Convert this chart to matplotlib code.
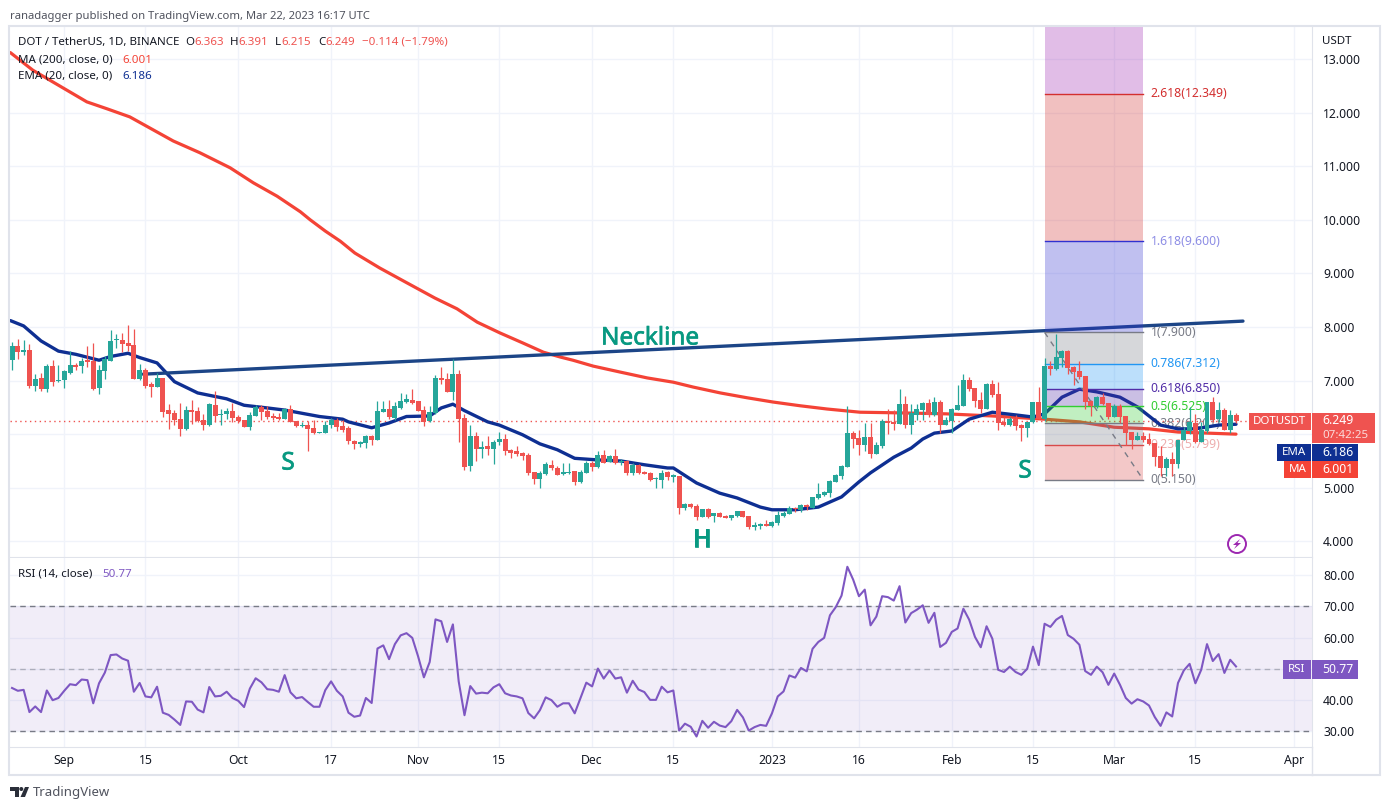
import numpy as np
import pandas as pd
import matplotlib
matplotlib.use("Agg")
import matplotlib.pyplot as plt
import matplotlib.patheffects as pe
from matplotlib.patches import Rectangle, Circle, Polygon

plt.rcParams["font.family"] = ["Noto Sans", "DejaVu Sans"]

W, H = 1390, 810

# daily candles, first bar is 2022-08-23
first_day = "2022-08-23"
opens = [7.38,7.65,7.54,7.57,6.90,7.05,6.85,7.27,6.99,7.01,
         7.15,7.29,7.27,7.38,7.37,6.86,7.18,7.37,7.75,7.76,
         7.70,7.66,7.03,7.20,6.94,6.88,7.05,6.45,6.40,6.28,
         6.10,6.45,6.43,6.26,6.17,6.54,6.35,6.38,6.43,6.32,
         6.26,6.13,6.34,6.50,6.43,6.34,6.32,6.28,6.47,6.25,
         6.15,6.17,6.12,6.02,6.02,6.17,6.26,6.15,6.11,5.87,
         5.82,5.84,5.97,5.89,6.41,6.47,6.30,6.49,6.60,6.64,
         6.62,6.45,6.24,6.40,7.05,7.03,6.79,7.12,6.30,5.41,
         5.97,5.72,5.78,5.72,5.85,5.91,5.70,5.69,5.65,5.61,
         5.29,5.16,5.26,5.42,5.37,5.26,5.27,5.31,5.11,5.27,
         5.46,5.39,5.61,5.48,5.59,5.48,5.50,5.27,5.42,5.29,
         5.27,5.16,5.14,5.29,5.21,5.22,4.62,4.70,4.66,4.45,
         4.60,4.47,4.53,4.47,4.44,4.47,4.57,4.47,4.27,4.29,
         4.32,4.29,4.34,4.47,4.51,4.62,4.58,4.68,4.62,4.81,
         4.86,4.90,5.11,5.22,5.39,6.02,5.93,5.80,5.95,5.63,
         5.78,6.25,6.23,6.19,6.56,6.17,6.36,6.45,6.58,6.36,
         6.60,6.17,6.25,6.45,6.53,7.01,6.86,6.64,6.47,6.94,
         6.75,6.23,6.17,6.28,6.17,6.12,6.23,6.60,6.28,7.27,
         7.22,7.42,7.55,7.25,7.18,7.09,6.62,6.53,6.69,6.58,
         6.32,6.53,6.34,6.04,5.89,5.97,5.91,5.83,5.59,5.37,
         5.54,5.44,5.89,6.06,6.20,5.86,6.06,6.61,6.28,6.45,6.08,6.363]
highs = [7.72,7.78,7.76,7.68,7.12,7.14,7.31,7.38,7.29,7.20,
         7.56,7.32,7.42,7.65,7.70,7.29,7.46,7.94,7.87,7.89,
         8.04,7.96,7.31,7.24,6.97,7.14,7.05,6.56,6.45,6.58,
         6.53,6.64,6.51,6.38,6.58,6.81,6.47,6.49,6.58,6.36,
         6.26,6.41,6.54,6.54,6.53,6.40,6.40,6.49,6.54,6.25,
         6.23,6.25,6.26,6.04,6.25,6.30,6.31,6.26,6.15,5.89,
         5.87,5.98,5.98,6.62,6.62,6.64,6.60,6.77,6.75,6.84,
         6.62,6.53,6.53,7.10,7.25,7.14,7.40,7.20,6.38,6.17,
         6.04,5.87,5.97,5.89,6.04,6.00,5.72,5.78,5.67,5.65,
         5.29,5.31,5.48,5.52,5.41,5.46,5.46,5.31,5.33,5.50,
         5.50,5.69,5.70,5.61,5.72,5.54,5.52,5.46,5.44,5.31,
         5.29,5.20,5.33,5.31,5.26,5.22,4.72,4.72,4.70,4.60,
         4.62,4.53,4.55,4.49,4.49,4.57,4.57,4.47,4.36,4.34,
         4.40,4.38,4.57,4.57,4.66,4.64,4.70,4.70,4.83,5.09,
         4.94,5.15,5.26,5.42,6.53,6.06,6.08,6.21,6.21,5.85,
         6.28,6.47,6.45,6.84,6.71,6.56,6.56,6.60,6.66,6.69,
         6.64,6.32,6.49,6.92,7.12,7.07,6.86,6.79,6.95,7.01,
         6.97,6.33,6.33,6.36,6.19,6.23,6.60,6.88,7.42,7.37,
         7.87,7.57,7.57,7.27,7.37,7.09,6.64,6.71,6.77,6.58,
         6.56,6.56,6.34,6.04,6.04,6.04,6.02,5.83,5.78,5.57,
         5.67,5.89,6.14,6.51,6.38,6.23,6.61,6.69,6.61,6.48,6.45,6.391]
lows = [7.19,7.40,7.47,6.87,6.81,6.81,6.79,6.90,6.97,6.86,
        7.12,7.20,7.14,7.26,6.82,6.75,7.03,7.37,7.60,7.53,
        7.55,7.03,7.01,6.86,6.69,6.88,6.32,6.10,6.17,5.97,
        6.08,6.19,6.23,6.08,6.15,6.23,6.17,6.28,6.23,6.21,
        6.13,6.08,6.34,6.26,6.28,6.26,6.26,6.28,6.23,6.13,
        6.13,5.69,6.00,6.02,6.02,6.12,6.06,6.05,5.82,5.72,
        5.76,5.74,5.80,5.89,6.41,6.28,6.26,6.47,6.58,6.56,
        6.43,6.15,6.23,6.38,6.94,6.79,6.64,5.85,5.33,5.31,
        5.50,5.56,5.61,5.44,5.80,5.61,5.56,5.59,5.52,5.24,
        5.07,4.99,5.24,5.33,5.24,5.24,5.26,5.05,5.09,5.27,
        5.31,5.37,5.46,5.48,5.44,5.42,5.24,5.24,5.26,5.26,
        5.13,4.99,4.99,5.14,5.11,4.51,4.58,4.62,4.40,4.45,
        4.44,4.36,4.45,4.44,4.40,4.45,4.45,4.23,4.21,4.23,
        4.29,4.27,4.30,4.45,4.51,4.55,4.55,4.58,4.62,4.79,
        4.85,4.83,5.11,5.16,5.39,5.74,5.61,5.69,5.55,5.63,
        5.74,6.00,6.08,6.19,6.11,6.00,6.26,6.26,6.32,6.34,
        6.02,6.17,6.02,6.45,6.53,6.81,6.51,6.39,6.47,6.69,
        6.08,6.15,6.15,6.08,5.87,5.95,6.21,6.28,6.25,7.10,
        7.20,7.25,7.12,6.92,7.03,6.47,6.34,6.49,6.54,6.28,
        6.32,6.21,5.80,5.72,5.89,5.85,5.80,5.41,5.22,5.22,
        5.22,5.37,5.89,6.00,5.83,5.85,6.02,6.23,6.23,6.07,6.02,6.215]
closes = [7.65,7.54,7.57,6.90,7.03,6.84,7.27,6.97,7.02,7.18,
          7.29,7.25,7.37,7.35,6.84,7.20,7.40,7.74,7.76,7.68,
          7.65,7.03,7.20,6.90,6.88,7.05,6.41,6.38,6.26,6.10,
          6.45,6.41,6.25,6.17,6.56,6.34,6.38,6.43,6.30,6.25,
          6.13,6.36,6.50,6.41,6.32,6.30,6.28,6.47,6.23,6.15,
          6.17,6.10,6.02,6.04,6.17,6.26,6.13,6.07,5.87,5.82,
          5.85,5.97,5.89,6.43,6.47,6.32,6.53,6.62,6.66,6.58,
          6.43,6.23,6.41,7.05,7.01,6.79,7.12,6.28,5.39,5.97,
          5.72,5.76,5.72,5.85,5.91,5.69,5.65,5.63,5.59,5.27,
          5.16,5.27,5.44,5.37,5.24,5.29,5.29,5.11,5.29,5.46,
          5.39,5.61,5.46,5.59,5.46,5.50,5.27,5.42,5.27,5.26,
          5.14,5.18,5.27,5.20,5.23,4.62,4.70,4.64,4.45,4.60,
          4.45,4.53,4.45,4.44,4.49,4.57,4.45,4.27,4.30,4.32,
          4.29,4.36,4.49,4.53,4.62,4.60,4.68,4.64,4.83,4.88,
          4.92,5.13,5.24,5.41,6.02,5.91,5.80,5.95,5.63,5.80,
          6.25,6.21,6.19,6.56,6.17,6.40,6.47,6.58,6.36,6.60,
          6.17,6.26,6.47,6.54,7.01,6.84,6.62,6.47,6.94,6.73,
          6.21,6.17,6.28,6.15,6.12,6.23,6.60,6.28,7.27,7.22,
          7.44,7.55,7.23,7.16,7.07,6.60,6.53,6.69,6.56,6.32,
          6.53,6.32,6.02,5.89,5.97,5.89,5.82,5.57,5.37,5.54,
          5.44,5.89,6.08,6.22,5.86,6.08,6.61,6.27,6.45,6.08,6.36,6.249]

# moving averages, read at these bars
ema_bars = [-0.3,2,5,8,11,15,17,20,22,25,28,32,37,40,44,47,53,57,58,62,65,68,72,74,76,78,82,84,88,91,94,97,
            101,105,109,113,114,118,122,125,129,131,135,139,143,146,148,152,155,157,159,162,165,169,173,176,
            178,181,184,187,191,194,198,201,204,208,211]
ema_vals = [8.12,8.02,7.74,7.55,7.49,7.38,7.45,7.51,7.43,7.33,6.98,6.77,6.66,6.54,6.49,6.45,6.33,6.28,6.23,6.12,
            6.21,6.33,6.34,6.49,6.56,6.44,6.23,6.17,5.99,5.82,5.71,5.55,5.52,5.50,5.43,5.37,5.37,5.09,4.90,4.81,
            4.64,4.59,4.59,4.64,4.83,5.11,5.28,5.57,5.74,5.91,6.02,6.06,6.28,6.41,6.36,6.32,6.38,6.69,6.84,6.79,
            6.69,6.51,6.17,6.10,6.10,6.17,6.186]
ma_bars = [-0.3,3.6,8.8,12.9,16.4,20.3,23.8,27.8,32.4,37.6,41.6,45.7,49.7,51.4,54,56.6,59.1,63.4,67.8,72.9,
           76.7,80.2,84.1,88.1,91.6,94.5,96.7,100.2,104.8,109.5,114,117.4,122.1,126.7,131.2,135.9,140.5,146.2,
           152,161,169,178,184,190,196,201,211]
ma_vals = [13.12,12.79,12.46,12.20,12.07,11.92,11.71,11.47,11.25,10.97,10.69,10.44,10.15,10.0,9.79,9.60,9.38,
           9.10,8.84,8.54,8.34,8.09,7.89,7.70,7.53,7.44,7.38,7.27,7.16,7.05,6.97,6.88,6.77,6.68,6.60,6.53,6.47,
           6.41,6.40,6.38,6.34,6.28,6.23,6.13,6.10,6.04,6.001]

# one value per bar
rsi_vals = [43.9,43.0,43.3,36.2,38.0,36.2,43.1,40.0,40.7,43.0,45.1,44.8,46.6,46.4,39.0,45.4,48.8,54.4,54.6,53.3,
            52.6,42.7,45.5,41.2,40.9,44.3,36.0,35.3,33.8,32.1,39.6,39.5,37.0,36.1,44.2,41.2,41.4,42.7,40.7,39.8,
            37.8,43.7,47.0,45.7,43.5,43.3,42.7,48.0,42.5,40.6,41.0,39.4,37.9,37.9,43.2,46.0,43.0,41.2,36.0,34.7,
            35.1,40.7,39.1,56.5,57.5,53.1,57.9,60.7,61.4,59.9,54.0,47.3,52.2,65.8,65.2,58.6,64.2,46.0,35.2,44.5,
            42.1,42.4,42.2,44.1,45.1,42.2,41.5,41.2,40.6,35.9,34.2,36.8,40.9,40.0,37.9,39.0,39.0,35.8,40.7,45.6,
            44.4,50.1,46.9,49.5,46.9,47.3,42.4,46.2,43.4,42.6,40.1,40.1,44.3,42.5,43.1,30.3,32.5,31.5,28.4,33.4,
            31.2,33.1,31.9,31.4,33.3,36.9,34.5,30.3,31.4,32.1,31.8,35.8,41.2,42.8,47.9,47.2,50.3,49.2,56.4,58.6,
            59.9,67.1,69.7,73.4,82.6,78.5,73.2,75.3,63.9,66.7,73.2,72.9,71.8,76.4,64.8,67.8,68.9,70.3,64.7,67.9,
            57.0,58.3,61.8,62.9,69.2,65.7,60.2,56.9,63.6,59.6,49.7,49.0,50.7,49.0,48.1,50.0,57.1,51.2,64.4,63.4,
            65.7,66.9,60.8,59.6,57.7,49.3,48.1,50.7,48.9,44.9,48.5,44.9,40.7,38.9,40.3,39.6,38.3,34.6,31.8,36.1,
            34.8,45.5,49.5,51.6,45.4,49.7,57.9,52.5,54.7,48.7,52.9,50.77]

# drawings
neck_bars = [22.6, 212.2]
neck_vals = [7.12, 8.11]
fib_bars = [178, 195]
fib_low, fib_high = 5.15, 7.90
fib_levels = [0, 0.236, 0.382, 0.5, 0.618, 0.786, 1, 1.618, 2.618, 4.236]
fib_colors = ["#787B86", "#D84A4A", "#787B86", "#32CD32", "#512DA8", "#2196F3", "#787B86", "#3030D0", "#D32F2F", "#9C27B0"]
fib_texts = ["0(5.150)", "0.236(5.799)", "0.382(6.201)", "0.5(6.525)", "0.618(6.850)", "0.786(7.312)",
             "1(7.900)", "1.618(9.600)", "2.618(12.349)"]
fib_alpha = [1, 0.45, 1, 1, 1, 1, 1, 0.55, 1]

price_ticks = [4, 5, 6, 7, 8, 9, 10, 11, 12, 13]
# the 6.000 label sits behind the last price tag on the reference
price_labels = ["4.000", "5.000", "", "7.000", "8.000", "9.000", "10.000", "11.000", "12.000", "13.000"]
rsi_ticks = [30, 40, 50, 60, 70, 80]
# same for 50.00 behind the RSI tag
rsi_labels = ["30.00", "40.00", "", "60.00", "70.00", "80.00"]
date_ticks = ["2022-09-01", "2022-09-15", "2022-10-01", "2022-10-17", "2022-11-01", "2022-11-15", "2022-12-01",
              "2022-12-15", "2023-01-01", "2023-01-16", "2023-02-01", "2023-02-15", "2023-03-01", "2023-03-15",
              "2023-04-01"]
date_labels = ["Sep", "15", "Oct", "17", "Nov", "15", "Dec", "15", "2023", "16", "Feb", "15", "Mar", "15", "Apr"]

UP, DOWN = "#26A69A", "#EF5350"
GRID = "#F0F3FA"
BORDER = "#E0E3EB"
TEXT = "#131722"
TEAL = "#089981"
RSI_COL = "#7E57C2"


def px_axes(left, top, right, bottom):
    """Axes placed by pixel box measured from the top-left."""
    return fig.add_axes([left / W, 1 - bottom / H, (right - left) / W, (bottom - top) / H])


fig = plt.figure(figsize=(W / 100, H / 100), dpi=100, facecolor="white")
ax = px_axes(10, 27, 1312, 557)
ax_rsi = px_axes(10, 558, 1312, 747)

xs = np.arange(len(closes))
o, h, l, c = map(np.array, (opens, highs, lows, closes))
tick_pos = [(pd.Timestamp(d) - pd.Timestamp(first_day)).days for d in date_ticks]
xlim = (-0.35, 224.1)

ax.set_xlim(*xlim)
ax.set_ylim(3.709, 13.597)
ax_rsi.set_xlim(*xlim)
ax_rsi.set_ylim(25.05, 85.4)

for a in (ax, ax_rsi):
    a.set_xticks(tick_pos)
    a.grid(True, color=GRID, lw=1)
    a.set_axisbelow(True)
    a.yaxis.tick_right()
    a.tick_params(length=0, labelsize=8.8, labelcolor=TEXT, pad=8)
    for s in a.spines.values():
        s.set_visible(False)
    a.spines["right"].set_visible(True)
    a.spines["right"].set_color(BORDER)
    a.spines["bottom"].set_visible(True)
    a.spines["bottom"].set_color(BORDER)

ax.set_xticklabels([])
ax.set_yticks(price_ticks)
ax.set_yticklabels(price_labels)

# last price line
ax.axhline(closes[-1], color=DOWN, lw=1, ls=(0, (1, 2.5)), zorder=1)

# fib labels stay under the lines and candles
span = fib_high - fib_low
for lev, col, txt, al in zip(fib_levels, fib_colors, fib_texts, fib_alpha):
    val = fib_low + lev * span
    ax.text(fib_bars[1] + 1.3, val, txt, color=col, alpha=al, fontsize=8.8, va="center", ha="left", zorder=1.5)

ax.plot(ma_bars, ma_vals, color="#F44336", lw=2.3, zorder=3, solid_capstyle="round")
ax.plot(ema_bars, ema_vals, color="#0E2F92", lw=2.4, zorder=3, solid_capstyle="round")
ax.plot(neck_bars, neck_vals, color="#1C4587", lw=2.4, zorder=3, solid_capstyle="round")

# fib bands
for i in range(1, len(fib_levels)):
    low_v = fib_low + fib_levels[i - 1] * span
    high_v = fib_low + fib_levels[i] * span
    ax.fill_between(fib_bars, low_v, high_v, color=fib_colors[i], alpha=0.3, lw=0, zorder=4)
for lev, col in zip(fib_levels[:-1], fib_colors[:-1]):
    val = fib_low + lev * span
    ax.plot(fib_bars, [val, val], color=col, lw=1, zorder=4.1)
ax.plot(fib_bars, [fib_high, fib_low], color="#787B86", lw=1, ls=(0, (4, 4)), zorder=4.2)

# candles
colors = np.where(c >= o, UP, DOWN)
ax.vlines(xs, l, h, colors=colors, lw=0.9, zorder=5)
ax.bar(xs, np.maximum(np.abs(c - o), 0.02), bottom=np.minimum(o, c), width=0.86, color=colors, lw=0, zorder=5.1)

# rsi pane
ax_rsi.axhspan(30, 70, color=RSI_COL, alpha=0.1, lw=0)
for v in (30, 50, 70):
    ax_rsi.axhline(v, color="#787B86", lw=1, ls=(0, (4, 3)), alpha=0.5 if v == 50 else 1)
ax_rsi.plot(xs, rsi_vals, color=RSI_COL, lw=1.5, zorder=3)
ax_rsi.set_yticks(rsi_ticks)
ax_rsi.set_yticklabels(rsi_labels)
ax_rsi.set_xticklabels(date_labels)
ax_rsi.tick_params(axis="x", pad=5)
for lab in ax_rsi.get_xticklabels():
    if lab.get_text() == "2023":
        lab.set_fontweight("bold")

# overlay in pixels for the TradingView chrome
ov = fig.add_axes([0, 0, 1, 1], facecolor="none", zorder=10)
ov.set_xlim(0, W)
ov.set_ylim(H, 0)
ov.axis("off")

ov.add_patch(Rectangle((9, 26), 1371, 749, fill=False, ec=BORDER, lw=1.5))
ov.plot([1312, 1312], [747, 775], color=BORDER, lw=1)


def put(x, y, s, color=TEXT, size=8.3, ha="left", **kw):
    # va center sits a bit high for this font
    return ov.text(x, y + 1.5, s, color=color, fontsize=size, ha=ha, va="center", **kw)


put(10, 15, "ranadagger published on TradingView.com, Mar 22, 2023 16:17 UTC", color="#50535E", size=8.1)
put(18, 41, "DOT / TetherUS, 1D, BINANCE")
for x, s, col in [(185, "O", TEXT), (194, "6.363", DOWN), (230, "H", TEXT), (238, "6.391", DOWN), (275, "L", TEXT),
                  (281, "6.215", DOWN), (318, "C", TEXT), (325, "6.249", DOWN), (362, "\u22120.114 (\u22121.79%)", DOWN)]:
    put(x, 41, s, color=col)
put(18, 59, "MA (200, close, 0)")
put(122, 59, "6.001", color="#F44336")
put(18, 75, "EMA (20, close, 0)")
put(122, 75, "6.186", color="#0E2F92")
put(18, 573, "RSI (14, close)")
put(102, 573, "50.77", color=RSI_COL)
put(1322, 40, "USDT", size=8.3)

bold = [pe.withStroke(linewidth=0.5, foreground=TEAL)]
put(601, 337, "Neckline", color=TEAL, size=17.5, path_effects=bold)
put(288, 462, "S", color=TEAL, size=17.5, ha="center", path_effects=bold)
put(1025, 470, "S", color=TEAL, size=17.5, ha="center", path_effects=bold)
put(702, 539, "H", color=TEAL, size=17.5, ha="center", path_effects=bold)

# right side value tags
ov.add_patch(Rectangle((1249, 413), 62, 17, color=DOWN, lw=0))
put(1280, 420, "DOTUSDT", color="white", size=8.3, ha="center")
ov.add_patch(Rectangle((1312, 413), 63, 30, color=DOWN, lw=0))
put(1322, 419, "6.249", color="white", size=8.8)
put(1322, 433.5, "07:42:25", color="#FBDADA", size=8.3)
ov.add_patch(Rectangle((1277, 444), 34, 17, color="#0E2F92", lw=0))
put(1294, 451, "EMA", color="white", size=8.3, ha="center")
ov.add_patch(Rectangle((1312, 444), 46, 17, color="#0E2F92", lw=0))
put(1322, 451, "6.186", color="white", size=8.8)
ov.add_patch(Rectangle((1284, 461), 27, 17, color="#F44336", lw=0))
put(1297.5, 468, "MA", color="white", size=8.3, ha="center")
ov.add_patch(Rectangle((1312, 461), 46, 17, color="#F44336", lw=0))
put(1322, 468, "6.001", color="white", size=8.8)
ov.add_patch(Rectangle((1283, 660), 28, 19, color=RSI_COL, lw=0))
put(1297, 668, "RSI", color="white", size=8.3, ha="center")
ov.add_patch(Rectangle((1312, 660), 46, 19, color=RSI_COL, lw=0))
put(1322, 668, "50.77", color="white", size=8.8)

# earnings style bolt icon
ov.add_patch(Circle((1237, 544), 9, fill=False, ec="#9C27B0", lw=1.4))
ov.add_patch(Polygon([(1240, 539), (1233, 545), (1236.5, 545), (1234, 549), (1241, 543), (1237.5, 543)],
                     closed=True, color="#9C27B0", lw=0))

# TradingView logo
ov.add_patch(Polygon([(10, 787), (19, 787), (19, 797), (15, 797), (15, 791), (10, 791)], closed=True, color="#2A2E39", lw=0))
ov.add_patch(Circle((21.3, 789), 2, color="#2A2E39", lw=0))
ov.add_patch(Polygon([(25, 787), (29, 787), (25, 797), (20.5, 797)], closed=True, color="#2A2E39", lw=0))
put(33, 791, "TradingView", color="#50535E", size=9.5)

fig.savefig("out.png", dpi=100, facecolor="white")
